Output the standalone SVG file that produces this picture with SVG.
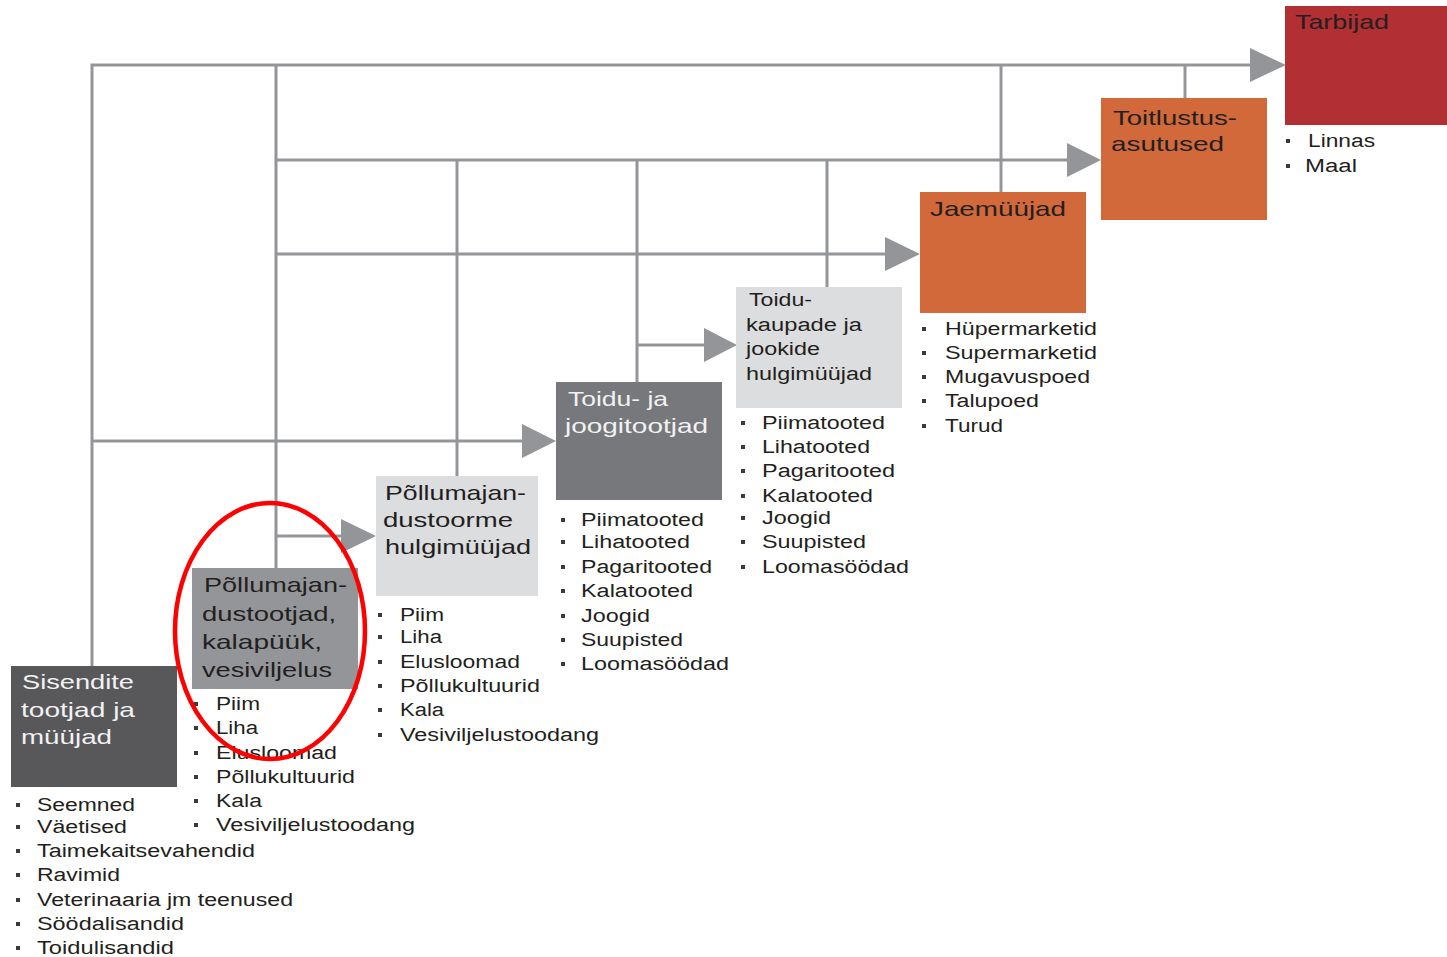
<svg xmlns="http://www.w3.org/2000/svg" width="1447" height="957" viewBox="0 0 1447 957">
<style>
.ln{stroke:#939598;stroke-width:3;fill:none}
.ar{fill:#939598}
.tt{font-family:"Liberation Sans",Arial,sans-serif;font-size:21px}
.td{fill:#231f20}
.tw{fill:#f2f2f2}
.li{font-family:"Liberation Sans",Arial,sans-serif;font-size:18px;fill:#231f20}
.bu{fill:#3a3a3a}
</style>
<defs>
<rect id="b" width="4" height="4"/>
</defs>
<rect width="1447" height="957" fill="#ffffff"/>
<g id="connectors">
<path class="ln" d="M92,666 V65 H1252"/>
<path class="ln" d="M276,568 V65"/>
<path class="ln" d="M276,160 H1068"/>
<path class="ln" d="M276,254 H886"/>
<path class="ln" d="M92,441 H523"/>
<path class="ln" d="M276,536 H342"/>
<path class="ln" d="M637,345 H705"/>
<path class="ln" d="M457,160 V476"/>
<path class="ln" d="M637,160 V382"/>
<path class="ln" d="M827,160 V287"/>
<path class="ln" d="M1001,65 V192"/>
<path class="ln" d="M1185,65 V98"/>
<polygon class="ar" points="1250,48 1286,65 1250,82"/>
<polygon class="ar" points="1067,143 1101,160 1067,177"/>
<polygon class="ar" points="885,237 920,254 885,271"/>
<polygon class="ar" points="522,424 556,441 522,458"/>
<polygon class="ar" points="704,328 737,345 704,362"/>
<polygon class="ar" points="341,519 376,536 341,553"/>
</g>
<g id="tarbijad">
<rect x="1285" y="6" width="162" height="119" fill="#b22f33"/>
<text class="tt td" x="1295" y="29" textLength="94" lengthAdjust="spacingAndGlyphs">Tarbijad</text>
<g class="bu"><use href="#b" x="1286" y="139"/><use href="#b" x="1286" y="164"/></g>
<text class="li" x="1308" y="147" textLength="67" lengthAdjust="spacingAndGlyphs">Linnas</text>
<text class="li" x="1305" y="172" textLength="52" lengthAdjust="spacingAndGlyphs">Maal</text>
</g>
<g id="toitlustus">
<rect x="1101" y="98" width="166" height="122" fill="#d2693a"/>
<text class="tt td" x="1113" y="125" textLength="124" lengthAdjust="spacingAndGlyphs">Toitlustus-</text>
<text class="tt td" x="1111" y="151" textLength="113" lengthAdjust="spacingAndGlyphs">asutused</text>
</g>
<g id="jaemyyjad">
<rect x="920" y="192" width="166" height="121" fill="#d2693a"/>
<text class="tt td" x="930" y="216" textLength="136" lengthAdjust="spacingAndGlyphs">Jaemüüjad</text>
<g class="bu"><use href="#b" x="922" y="327"/><use href="#b" x="922" y="351"/><use href="#b" x="922" y="375"/><use href="#b" x="922" y="399"/><use href="#b" x="922" y="424"/></g>
<text class="li" x="945" y="335" textLength="152" lengthAdjust="spacingAndGlyphs">Hüpermarketid</text>
<text class="li" x="945" y="359" textLength="152" lengthAdjust="spacingAndGlyphs">Supermarketid</text>
<text class="li" x="945" y="383" textLength="145" lengthAdjust="spacingAndGlyphs">Mugavuspoed</text>
<text class="li" x="945" y="407" textLength="94" lengthAdjust="spacingAndGlyphs">Talupoed</text>
<text class="li" x="945" y="432" textLength="58" lengthAdjust="spacingAndGlyphs">Turud</text>
</g>
<g id="hulgimyyjad">
<rect x="736" y="287" width="166" height="121" fill="#dcdddf"/>
<text class="tt td" style="font-size:18px" x="749" y="306" textLength="63" lengthAdjust="spacingAndGlyphs">Toidu-</text>
<text class="tt td" style="font-size:18px" x="746" y="331" textLength="116" lengthAdjust="spacingAndGlyphs">kaupade ja</text>
<text class="tt td" style="font-size:18px" x="746" y="355" textLength="74" lengthAdjust="spacingAndGlyphs">jookide</text>
<text class="tt td" style="font-size:18px" x="746" y="380" textLength="126" lengthAdjust="spacingAndGlyphs">hulgimüüjad</text>
<g class="bu"><use href="#b" x="741" y="421"/><use href="#b" x="741" y="445"/><use href="#b" x="741" y="469"/><use href="#b" x="741" y="494"/><use href="#b" x="741" y="516"/><use href="#b" x="741" y="540"/><use href="#b" x="741" y="565"/></g>
<text class="li" x="762" y="429" textLength="123" lengthAdjust="spacingAndGlyphs">Piimatooted</text>
<text class="li" x="762" y="453" textLength="108" lengthAdjust="spacingAndGlyphs">Lihatooted</text>
<text class="li" x="762" y="477" textLength="133" lengthAdjust="spacingAndGlyphs">Pagaritooted</text>
<text class="li" x="762" y="502" textLength="111" lengthAdjust="spacingAndGlyphs">Kalatooted</text>
<text class="li" x="762" y="524" textLength="69" lengthAdjust="spacingAndGlyphs">Joogid</text>
<text class="li" x="762" y="548" textLength="104" lengthAdjust="spacingAndGlyphs">Suupisted</text>
<text class="li" x="762" y="573" textLength="147" lengthAdjust="spacingAndGlyphs">Loomasöödad</text>
</g>
<g id="joogitootjad">
<rect x="556" y="382" width="166" height="118" fill="#77787b"/>
<text class="tt tw" x="568" y="406" textLength="100" lengthAdjust="spacingAndGlyphs">Toidu- ja</text>
<text class="tt tw" x="565" y="433" textLength="143" lengthAdjust="spacingAndGlyphs">joogitootjad</text>
<g class="bu"><use href="#b" x="561" y="518"/><use href="#b" x="561" y="540"/><use href="#b" x="561" y="565"/><use href="#b" x="561" y="589"/><use href="#b" x="561" y="614"/><use href="#b" x="561" y="638"/><use href="#b" x="561" y="662"/></g>
<text class="li" x="581" y="526" textLength="123" lengthAdjust="spacingAndGlyphs">Piimatooted</text>
<text class="li" x="581" y="548" textLength="109" lengthAdjust="spacingAndGlyphs">Lihatooted</text>
<text class="li" x="581" y="573" textLength="131" lengthAdjust="spacingAndGlyphs">Pagaritooted</text>
<text class="li" x="581" y="597" textLength="112" lengthAdjust="spacingAndGlyphs">Kalatooted</text>
<text class="li" x="581" y="622" textLength="69" lengthAdjust="spacingAndGlyphs">Joogid</text>
<text class="li" x="581" y="646" textLength="102" lengthAdjust="spacingAndGlyphs">Suupisted</text>
<text class="li" x="581" y="670" textLength="148" lengthAdjust="spacingAndGlyphs">Loomasöödad</text>
</g>
<g id="toorme">
<rect x="376" y="476" width="162" height="120" fill="#dcdddf"/>
<text class="tt td" x="385" y="500" textLength="141" lengthAdjust="spacingAndGlyphs">Põllumajan-</text>
<text class="tt td" x="383" y="527" textLength="130" lengthAdjust="spacingAndGlyphs">dustoorme</text>
<text class="tt td" x="385" y="554" textLength="146" lengthAdjust="spacingAndGlyphs">hulgimüüjad</text>
<g class="bu"><use href="#b" x="378" y="613"/><use href="#b" x="378" y="635"/><use href="#b" x="378" y="660"/><use href="#b" x="378" y="684"/><use href="#b" x="378" y="708"/><use href="#b" x="378" y="733"/></g>
<text class="li" x="400" y="621" textLength="44" lengthAdjust="spacingAndGlyphs">Piim</text>
<text class="li" x="400" y="643" textLength="42" lengthAdjust="spacingAndGlyphs">Liha</text>
<text class="li" x="400" y="668" textLength="120" lengthAdjust="spacingAndGlyphs">Elusloomad</text>
<text class="li" x="400" y="692" textLength="140" lengthAdjust="spacingAndGlyphs">Põllukultuurid</text>
<text class="li" x="400" y="716" textLength="44" lengthAdjust="spacingAndGlyphs">Kala</text>
<text class="li" x="400" y="741" textLength="199" lengthAdjust="spacingAndGlyphs">Vesiviljelustoodang</text>
</g>
<g id="tootjad">
<rect x="192" y="568" width="166" height="121" fill="#939598"/>
<text class="tt td" x="204" y="592" textLength="143" lengthAdjust="spacingAndGlyphs">Põllumajan-</text>
<text class="tt td" x="202" y="621" textLength="134" lengthAdjust="spacingAndGlyphs">dustootjad,</text>
<text class="tt td" x="202" y="649" textLength="120" lengthAdjust="spacingAndGlyphs">kalapüük,</text>
<text class="tt td" x="202" y="677" textLength="130" lengthAdjust="spacingAndGlyphs">vesiviljelus</text>
<g class="bu"><use href="#b" x="194" y="702"/><use href="#b" x="194" y="726"/><use href="#b" x="194" y="751"/><use href="#b" x="194" y="775"/><use href="#b" x="194" y="799"/><use href="#b" x="194" y="823"/></g>
<text class="li" x="216" y="710" textLength="44" lengthAdjust="spacingAndGlyphs">Piim</text>
<text class="li" x="216" y="734" textLength="42" lengthAdjust="spacingAndGlyphs">Liha</text>
<text class="li" x="216" y="759" textLength="121" lengthAdjust="spacingAndGlyphs">Elusloomad</text>
<text class="li" x="216" y="783" textLength="139" lengthAdjust="spacingAndGlyphs">Põllukultuurid</text>
<text class="li" x="216" y="807" textLength="46" lengthAdjust="spacingAndGlyphs">Kala</text>
<text class="li" x="216" y="831" textLength="199" lengthAdjust="spacingAndGlyphs">Vesiviljelustoodang</text>
</g>
<g id="sisendid">
<rect x="11" y="666" width="166" height="121" fill="#58585b"/>
<text class="tt tw" x="22" y="689" textLength="112" lengthAdjust="spacingAndGlyphs">Sisendite</text>
<text class="tt tw" x="21" y="717" textLength="114" lengthAdjust="spacingAndGlyphs">tootjad ja</text>
<text class="tt tw" x="21" y="744" textLength="91" lengthAdjust="spacingAndGlyphs">müüjad</text>
<g class="bu"><use href="#b" x="16" y="803"/><use href="#b" x="16" y="825"/><use href="#b" x="16" y="849"/><use href="#b" x="16" y="873"/><use href="#b" x="16" y="898"/><use href="#b" x="16" y="922"/><use href="#b" x="16" y="946"/></g>
<text class="li" x="37" y="811" textLength="98" lengthAdjust="spacingAndGlyphs">Seemned</text>
<text class="li" x="37" y="833" textLength="90" lengthAdjust="spacingAndGlyphs">Väetised</text>
<text class="li" x="37" y="857" textLength="218" lengthAdjust="spacingAndGlyphs">Taimekaitsevahendid</text>
<text class="li" x="37" y="881" textLength="83" lengthAdjust="spacingAndGlyphs">Ravimid</text>
<text class="li" x="37" y="906" textLength="256" lengthAdjust="spacingAndGlyphs">Veterinaaria jm teenused</text>
<text class="li" x="37" y="930" textLength="147" lengthAdjust="spacingAndGlyphs">Söödalisandid</text>
<text class="li" x="37" y="954" textLength="137" lengthAdjust="spacingAndGlyphs">Toidulisandid</text>
</g>
<g id="highlight">
<ellipse cx="270" cy="631" rx="95" ry="128" fill="none" stroke="#ff0000" stroke-width="4.5"/>
</g>
</svg>
